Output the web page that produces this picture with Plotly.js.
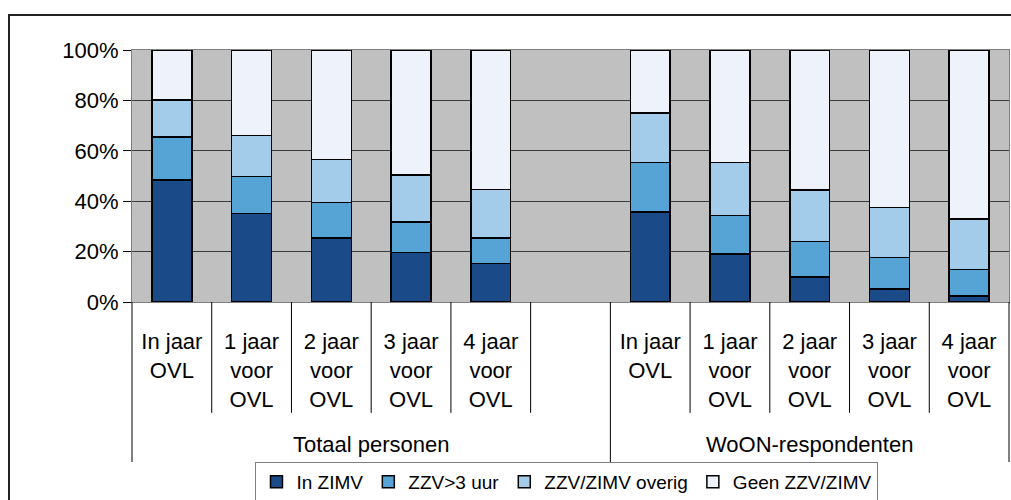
<!DOCTYPE html>
<html>
<head>
<meta charset="utf-8">
<script src="https://cdn.plot.ly/plotly-3.0.1.min.js"></script>
<style>
  html, body { margin: 0; padding: 0; background: #ffffff; overflow: hidden; }
  #frame { position: absolute; left: 8px; top: 14px; width: 1100px; height: 600px;
           border-left: 2px solid #222; border-top: 2px solid #222; pointer-events: none; }
  #chart { position: absolute; left: 0; top: 0; width: 1011px; height: 500px; }
</style>
</head>
<body>
<div id="chart"></div>
<div id="frame"></div>
<script>
// ---- data ----
const groups = ["Totaal personen", "WoON-respondenten"];
const periodLabels = ["In jaar<br>OVL", "1 jaar<br>voor<br>OVL", "2 jaar<br>voor<br>OVL", "3 jaar<br>voor<br>OVL", "4 jaar<br>voor<br>OVL"];
const spacerLabel = " ";

const seriesNames = ["In ZIMV", "ZZV>3 uur", "ZZV/ZIMV overig", "Geen ZZV/ZIMV"];
const totaalInZIMV   = [48.4, 35.1, 25.3, 19.6, 15.2];
const totaalZZV3     = [17.0, 14.8, 14.1, 12.2, 10.2];
const totaalOverig   = [14.7, 16.1, 17.1, 18.5, 19.2];
const totaalGeen     = [19.9, 34.0, 43.5, 49.7, 55.4];
const woonInZIMV     = [35.7, 19.0, 10.0, 5.1, 2.4];
const woonZZV3       = [19.6, 15.3, 14.1, 12.6, 10.4];
const woonOverig     = [19.7, 21.0, 20.3, 19.8, 20.2];
const woonGeen       = [25.0, 44.7, 55.6, 62.5, 67.0];
const yTickVals = [0, 20, 40, 60, 80, 100];
const yTickText = ["0%", "20%", "40%", "60%", "80%", "100%"];

const colors = ["#1a4b88", "#56a3d6", "#a3cceb", "#eef3fb"];
const FONT = "Arial, 'Liberation Sans', sans-serif";

// ---- build multicategory x ----
// an invisible trailing line keeps the group labels at the reference distance
const pad = "<br><span style='font-size:72px'>&nbsp;</span>";
const xGroup = [], xCat = [];
periodLabels.forEach(l => { xGroup.push(groups[0]); xCat.push(l + pad); });
xGroup.push(groups[0]); xCat.push(spacerLabel);
periodLabels.forEach(l => { xGroup.push(groups[1]); xCat.push(l + pad); });

function assemble(t, w) { return t.concat([null]).concat(w); }
const seriesValues = [
  assemble(totaalInZIMV, woonInZIMV),
  assemble(totaalZZV3, woonZZV3),
  assemble(totaalOverig, woonOverig),
  assemble(totaalGeen, woonGeen)
];

const traces = seriesNames.map((name, i) => ({
  type: "bar",
  name: name,
  x: [xGroup, xCat],
  y: seriesValues[i],
  marker: { color: colors[i], line: { color: "#000000", width: 1.5 } },
  hoverinfo: "skip"
}));

// boundary lines: short ones inside a group, long ones at group edges
const nCat = xCat.length;
const shapes = [];
for (let i = 0; i <= nCat; i++) {
  const px = i / nCat;
  const groupEdge = (i === 0 || i === nCat || xGroup[i - 1] !== xGroup[i]);
  shapes.push({ type: "line", xref: "paper", yref: "paper", x0: px, x1: px, y0: 0,
                y1: groupEdge ? -0.635 : -0.44,
                line: { color: "#000000", width: 1 } });
}

const layout = {
  width: 1011, height: 500,
  margin: { l: 132, r: 2, t: 50, b: 198 },
  paper_bgcolor: "rgba(0,0,0,0)",
  plot_bgcolor: "#c0c0c0",
  barmode: "stack",
  bargap: 0.5,
  font: { family: FONT, size: 22, color: "#000000" },
  showlegend: true,
  legend: {
    orientation: "h", x: 0.496, xanchor: "center",
    yref: "container", y: 0.076, yanchor: "top",
    traceorder: "normal", bgcolor: "#ffffff", bordercolor: "#808080", borderwidth: 1,
    font: { family: FONT, size: 19, color: "#000000" }
  },
  xaxis: {
    type: "multicategory", automargin: false,
    showgrid: false, zeroline: false,
    showline: true, linecolor: "#808080", linewidth: 1, mirror: true,
    ticks: "", ticklabelstandoff: 20,
    showdividers: false,
    tickfont: { family: FONT, size: 22, color: "#000000" }
  },
  yaxis: {
    range: [0, 100], fixedrange: true, automargin: false,
    tickvals: yTickVals, ticktext: yTickText,
    ticks: "outside", ticklen: 8, tickcolor: "#000000",
    showgrid: true, gridcolor: "#3a3a3a", gridwidth: 1,
    zeroline: false,
    showline: true, linecolor: "#808080", linewidth: 1, mirror: true,
    tickfont: { family: FONT, size: 22, color: "#000000" }
  },
  shapes: shapes
};

Plotly.newPlot("chart", traces, layout, { displayModeBar: false, staticPlot: true });
</script>
</body>
</html>
